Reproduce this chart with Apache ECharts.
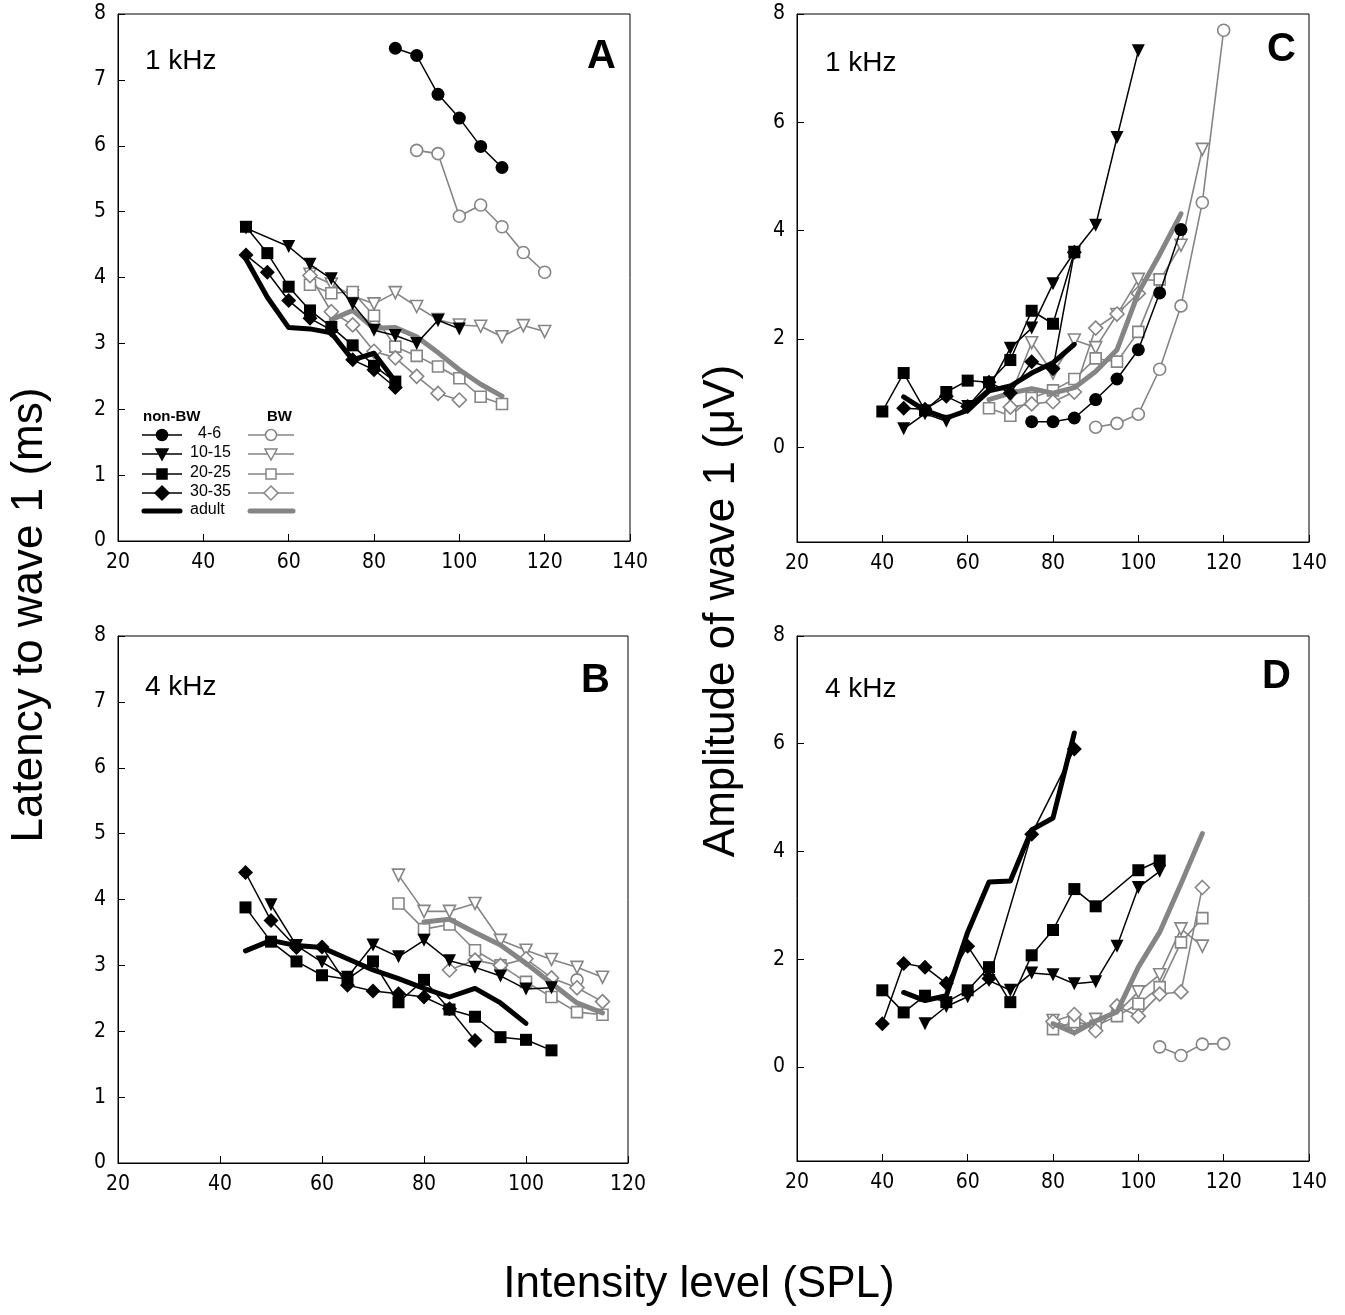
<!DOCTYPE html>
<html><head><meta charset="utf-8">
<script src="https://cdn.jsdelivr.net/npm/echarts@6/dist/echarts.min.js"></script>
<style>html,body{margin:0;padding:0;background:#fff}#c{width:1345px;height:1315px}</style>
</head><body><div id="c"></div>
<script>
// ---------- Panel A: latency, 1 kHz ----------
const A_nb_4_6   = [[85,7.48],[90,7.37],[95,6.78],[100,6.42],[105,5.99],[110,5.67]];
const A_nb_10_15 = [[50,4.75],[60,4.47],[65,4.2],[70,3.98],[75,3.6],[80,3.2],[85,3.12],[90,3.0],[95,3.35],[100,3.22]];
const A_nb_20_25 = [[50,4.77],[55,4.37],[60,3.86],[65,3.5],[70,3.25],[75,2.97],[80,2.66],[85,2.42]];
const A_nb_30_35 = [[50,4.34],[55,4.08],[60,3.65],[65,3.38],[70,3.2],[75,2.75],[80,2.6],[85,2.33]];
const A_nb_adult = [[50,4.28],[55,3.7],[60,3.24],[65,3.22],[70,3.16],[75,2.75],[80,2.85],[85,2.42]];
const A_bw_4_6   = [[90,5.93],[95,5.88],[100,4.93],[105,5.1],[110,4.77],[115,4.38],[120,4.08]];
const A_bw_10_15 = [[65,4.05],[70,3.9],[75,3.72],[80,3.6],[85,3.77],[90,3.56],[95,3.36],[100,3.28],[105,3.26],[110,3.1],[115,3.27],[120,3.18]];
const A_bw_20_25 = [[65,3.89],[70,3.76],[75,3.78],[80,3.42],[85,2.95],[90,2.81],[95,2.65],[100,2.47],[105,2.19],[110,2.08]];
const A_bw_30_35 = [[65,4.03],[70,3.48],[75,3.28],[80,2.88],[85,2.78],[90,2.5],[95,2.24],[100,2.14]];
const A_bw_adult = [[70,3.36],[75,3.5],[80,3.23],[85,3.24],[90,3.1],[95,2.86],[100,2.6],[105,2.38],[110,2.2]];

// ---------- Panel B: latency, 4 kHz ----------
const B_nb_10_15 = [[50,3.92],[55,3.3],[60,3.05],[65,2.82],[70,3.31],[75,3.13],[80,3.38],[85,3.07],[90,2.97],[95,2.84],[100,2.64],[105,2.66]];
const B_nb_20_25 = [[45,3.88],[50,3.36],[55,3.06],[60,2.85],[65,2.79],[70,3.06],[75,2.44],[80,2.78],[85,2.33],[90,2.22],[95,1.91],[100,1.87],[105,1.71]];
const B_nb_30_35 = [[45,4.41],[50,3.68],[55,3.27],[60,3.28],[65,2.7],[70,2.61],[75,2.57],[80,2.52],[85,2.34],[90,1.86]];
const B_nb_adult = [[45,3.22],[50,3.38],[55,3.3],[60,3.27],[65,3.1],[70,2.93],[75,2.8],[80,2.65],[85,2.52],[90,2.65],[95,2.43],[100,2.12]];
const B_bw_4_6   = [[110,2.78]];
const B_bw_10_15 = [[75,4.37],[80,3.82],[85,3.82],[90,3.94],[95,3.38],[100,3.23],[105,3.09],[110,2.97],[115,2.82]];
const B_bw_20_25 = [[75,3.94],[80,3.55],[85,3.62],[90,3.23],[95,3.0],[100,2.75],[105,2.52],[110,2.29],[115,2.25]];
const B_bw_30_35 = [[85,2.93],[90,3.08],[95,3.0],[100,3.1],[105,2.81],[110,2.66],[115,2.45]];
const B_bw_adult = [[80,3.66],[85,3.7],[90,3.5],[95,3.31],[100,3.03],[105,2.73],[110,2.43],[115,2.28]];

// ---------- Panel C: amplitude, 1 kHz ----------
const C_nb_4_6   = [[75,0.47],[80,0.47],[85,0.54],[90,0.88],[95,1.26],[100,1.8],[105,2.85],[110,4.02]];
const C_nb_10_15 = [[45,0.34],[50,0.62],[55,0.48],[60,0.75],[65,1.1],[70,1.83],[75,2.2],[80,3.02],[85,3.6],[90,4.1],[95,5.72],[100,7.32]];
const C_nb_20_25 = [[40,0.66],[45,1.37],[50,0.68],[55,1.02],[60,1.23],[65,1.2],[70,1.61],[75,2.52],[80,2.28],[85,3.6]];
const C_nb_30_35 = [[45,0.72],[50,0.7],[55,0.94],[60,0.75],[65,1.2],[70,1.0],[75,1.58],[80,1.45],[85,3.6]];
const C_nb_adult = [[45,0.93],[50,0.68],[55,0.54],[60,0.68],[65,1.04],[70,1.13],[75,1.37],[80,1.56],[85,1.9]];
const C_bw_4_6   = [[90,0.37],[95,0.44],[100,0.61],[105,1.44],[110,2.61],[115,4.52],[120,7.7]];
const C_bw_10_15 = [[70,0.95],[75,1.93],[80,1.37],[85,1.98],[90,1.84],[95,2.45],[100,3.1],[105,3.08],[110,3.73],[115,5.5]];
const C_bw_20_25 = [[65,0.72],[70,0.58],[75,0.91],[80,1.05],[85,1.26],[90,1.64],[95,1.58],[100,2.13],[105,3.1]];
const C_bw_30_35 = [[70,0.74],[75,0.8],[80,0.84],[85,1.02],[90,2.2],[95,2.46],[100,2.84]];
const C_bw_adult = [[65,0.88],[70,1.0],[75,1.08],[80,1.0],[85,1.1],[90,1.4],[95,1.8],[100,2.85],[105,3.56],[110,4.31]];

// ---------- Panel D: amplitude, 4 kHz ----------
const D_nb_10_15 = [[50,0.8],[55,1.12],[60,1.3],[65,1.6],[70,1.42],[75,1.74],[80,1.71],[85,1.54],[90,1.58],[95,2.24],[100,3.33],[105,3.63]];
const D_nb_20_25 = [[40,1.42],[45,1.01],[50,1.32],[55,1.2],[60,1.42],[65,1.85],[70,1.2],[75,2.07],[80,2.54],[85,3.3],[90,2.98],[100,3.65],[105,3.83]];
const D_nb_30_35 = [[40,0.8],[45,1.92],[50,1.85],[55,1.55],[60,2.24],[65,1.64],[75,4.32],[85,5.9]];
const D_nb_adult = [[45,1.38],[50,1.23],[55,1.32],[60,2.5],[65,3.43],[70,3.45],[75,4.4],[80,4.62],[85,6.2]];
const D_bw_4_6   = [[105,0.37],[110,0.21],[115,0.42],[120,0.43]];
const D_bw_10_15 = [[80,0.86],[85,0.7],[90,0.88],[95,1.0],[100,1.39],[105,1.71],[110,2.56],[115,2.24]];
const D_bw_20_25 = [[80,0.7],[85,0.83],[90,0.76],[95,0.94],[100,1.17],[105,1.48],[110,2.31],[115,2.76]];
const D_bw_30_35 = [[80,0.84],[85,0.97],[90,0.67],[95,1.13],[100,0.94],[105,1.35],[110,1.39],[115,3.33]];
const D_bw_adult = [[80,0.8],[85,0.63],[90,0.85],[95,1.02],[100,1.85],[105,2.5],[110,3.4],[115,4.33]];

// tick labels
const xTicksA = [20,40,60,80,100,120,140];
const xTicksB = [20,40,60,80,100,120];
const yTicksLat = [0,1,2,3,4,5,6,7,8];
const yTicksAmp = [0,2,4,6,8];

const FONT = 'Liberation Sans, Arial, Helvetica, sans-serif';
const TICKFONT = '"Liberation Sans Narrow", "Arial Narrow", "DejaVu Sans Condensed", "Liberation Sans", sans-serif';
const GRAY = '#858585';
const MARK = {c:'circle', t:'triangle', s:'rect', d:'diamond'};
const MSIZE = {c:13, t:13, s:12, d:15};

function nb(data, g, m){
  return {type:'line', data, xAxisIndex:g, yAxisIndex:g, symbol:MARK[m], symbolSize:MSIZE[m],
    symbolRotate: m==='t'?180:0, showSymbol:true, z:4,
    itemStyle:{color:'#000', borderColor:'#000', borderWidth:0},
    lineStyle:{color:'#000', width:1.5}, emphasis:{disabled:true}};
}
function bw(data, g, m){
  return {type:'line', data, xAxisIndex:g, yAxisIndex:g, symbol:MARK[m], symbolSize:MSIZE[m]-1,
    symbolRotate: m==='t'?180:0, showSymbol:true, z:3,
    itemStyle:{color:'#fff', borderColor:GRAY, borderWidth:1.6},
    lineStyle:{color:GRAY, width:1.6}, emphasis:{disabled:true}};
}
function adult(data, g, color){
  return {type:'line', data, xAxisIndex:g, yAxisIndex:g, symbol:'none', z: color==='#000'?5:4,
    lineStyle:{color, width:5, cap:'round', join:'round'}, emphasis:{disabled:true}};
}

const LBL = {color:'#000', fontSize:21, fontFamily:TICKFONT};
function xAxis(g, max, ticks){
  return {type:'value', gridIndex:g, min:20, max, interval:20,
    axisLine:{show:true, onZero:false, lineStyle:{color:'#000', width:1}},
    axisTick:{show:true, inside:true, length:7, lineStyle:{color:'#000'}},
    axisLabel:Object.assign({margin:11, customValues:ticks}, LBL),
    splitLine:{show:false}};
}
function yAxisLat(g){
  return {type:'value', gridIndex:g, min:0, max:8, interval:1,
    axisLine:{show:true, onZero:false, lineStyle:{color:'#000', width:1}},
    axisTick:{show:true, inside:true, length:7, lineStyle:{color:'#000'}, customValues:yTicksLat},
    axisLabel:Object.assign({margin:12, customValues:yTicksLat}, LBL),
    splitLine:{show:false}};
}
function yAxisAmp(g){
  return {type:'value', gridIndex:g, min:-1.75, max:8,
    axisLine:{show:true, onZero:false, lineStyle:{color:'#000', width:1}},
    axisTick:{show:true, inside:true, length:7, lineStyle:{color:'#000'}, customValues:yTicksAmp},
    axisLabel:Object.assign({margin:12, customValues:yTicksAmp}, LBL),
    splitLine:{show:false}};
}

const grids = [
  {left:118, top:14, width:512, height:527},
  {left:118, top:636, width:510, height:527},
  {left:797, top:14, width:512, height:528},
  {left:797, top:636, width:512, height:525}
].map(g => Object.assign({show:true, borderColor:'#000', borderWidth:1, backgroundColor:'transparent'}, g));

const series = [
  // A
  bw(A_bw_4_6,0,'c'), bw(A_bw_10_15,0,'t'), bw(A_bw_20_25,0,'s'), bw(A_bw_30_35,0,'d'), adult(A_bw_adult,0,GRAY),
  nb(A_nb_4_6,0,'c'), nb(A_nb_10_15,0,'t'), nb(A_nb_20_25,0,'s'), nb(A_nb_30_35,0,'d'), adult(A_nb_adult,0,'#000'),
  // B
  bw(B_bw_4_6,1,'c'), bw(B_bw_10_15,1,'t'), bw(B_bw_20_25,1,'s'), bw(B_bw_30_35,1,'d'), adult(B_bw_adult,1,GRAY),
  nb(B_nb_10_15,1,'t'), nb(B_nb_20_25,1,'s'), nb(B_nb_30_35,1,'d'), adult(B_nb_adult,1,'#000'),
  // C
  bw(C_bw_4_6,2,'c'), bw(C_bw_10_15,2,'t'), bw(C_bw_20_25,2,'s'), bw(C_bw_30_35,2,'d'), adult(C_bw_adult,2,GRAY),
  nb(C_nb_4_6,2,'c'), nb(C_nb_10_15,2,'t'), nb(C_nb_20_25,2,'s'), nb(C_nb_30_35,2,'d'), adult(C_nb_adult,2,'#000'),
  // D
  bw(D_bw_4_6,3,'c'), bw(D_bw_10_15,3,'t'), bw(D_bw_20_25,3,'s'), bw(D_bw_30_35,3,'d'), adult(D_bw_adult,3,GRAY),
  nb(D_nb_10_15,3,'t'), nb(D_nb_20_25,3,'s'), nb(D_nb_30_35,3,'d'), adult(D_nb_adult,3,'#000')
];

// ---------- legend (panel A) built as graphics ----------
const legRows = ['4-6','10-15','20-25','30-35','adult'];
const legY = [435,454,474,493,511];
const legShapes = ['c','t','s','d','a'];
const graphics = [];
function markerGraphic(m, cx, cy, fill, stroke){
  const st = {fill, stroke, lineWidth:1.5};
  if(m==='c') return {type:'circle', shape:{cx, cy, r:5.5}, style:st, z:10};
  if(m==='s') return {type:'rect', shape:{x:cx-5, y:cy-5, width:10, height:10}, style:st, z:10};
  if(m==='t') return {type:'polygon', shape:{points:[[cx-6,cy-5],[cx+6,cy-5],[cx,cy+6]]}, style:st, z:10};
  if(m==='d') return {type:'polygon', shape:{points:[[cx,cy-7],[cx+7,cy],[cx,cy+7],[cx-7,cy]]}, style:st, z:10};
  return null;
}
graphics.push({type:'text', left:143, top:409, style:{text:'non-BW', font:'bold 15px '+FONT, fill:'#000'}, z:10});
graphics.push({type:'text', left:267, top:409, style:{text:'BW', font:'bold 15px '+FONT, fill:'#000'}, z:10});
legRows.forEach((lab,i)=>{
  const y = legY[i], m = legShapes[i];
  if(m==='a'){
    graphics.push({type:'line', shape:{x1:144,y1:y,x2:180,y2:y}, style:{stroke:'#000', lineWidth:5, lineCap:'round'}, z:10});
    graphics.push({type:'line', shape:{x1:250,y1:y,x2:293,y2:y}, style:{stroke:GRAY, lineWidth:5, lineCap:'round'}, z:10});
  } else {
    graphics.push({type:'line', shape:{x1:142,y1:y,x2:182,y2:y}, style:{stroke:'#000', lineWidth:1.5}, z:10});
    graphics.push(markerGraphic(m,162,y,'#000','#000'));
    graphics.push({type:'line', shape:{x1:248,y1:y,x2:294,y2:y}, style:{stroke:GRAY, lineWidth:1.5}, z:10});
    graphics.push(markerGraphic(m,271,y,'#fff',GRAY));
  }
  graphics.push({type:'text', left: lab==='4-6'?198:190, top:y-9, style:{text:lab, font:'16px '+FONT, fill:'#000'}, z:10});
});

// panel letters and frequency labels
[['A',587,37],['B',581,661],['C',1267,30],['D',1262,657]].forEach(([t,x,y])=>{
  graphics.push({type:'text', left:x, top:y, style:{text:t, font:'bold 40px '+FONT, fill:'#000'}, z:10});
});
[['1 kHz',145,47],['4 kHz',145,673],['1 kHz',825,49],['4 kHz',825,675]].forEach(([t,x,y])=>{
  graphics.push({type:'text', left:x, top:y, style:{text:t, font:'28px '+FONT, fill:'#000'}, z:10});
});
// axis titles
graphics.push({type:'text', x:30, y:615, rotation:Math.PI/2,
  style:{text:'Latency to wave 1 (ms)', font:'44px '+FONT, fill:'#000', align:'center', verticalAlign:'middle'}, z:10});
graphics.push({type:'text', x:722, y:611, rotation:Math.PI/2,
  style:{text:'Amplitude of wave 1 (\u03BCV)', font:'44px '+FONT, fill:'#000', align:'center', verticalAlign:'middle'}, z:10});
graphics.push({type:'text', x:699, y:1285,
  style:{text:'Intensity level (SPL)', font:'44px '+FONT, fill:'#000', align:'center', verticalAlign:'middle'}, z:10});

const chart = echarts.init(document.getElementById('c'), null, {renderer:'canvas'});
chart.setOption({
  animation:false,
  backgroundColor:'#fff',
  grid: grids,
  xAxis: [xAxis(0,140,xTicksA), xAxis(1,120,xTicksB), xAxis(2,140,xTicksA), xAxis(3,140,xTicksA)],
  yAxis: [yAxisLat(0), yAxisLat(1), yAxisAmp(2), yAxisAmp(3)],
  series,
  graphic: graphics
});
</script></body></html>
